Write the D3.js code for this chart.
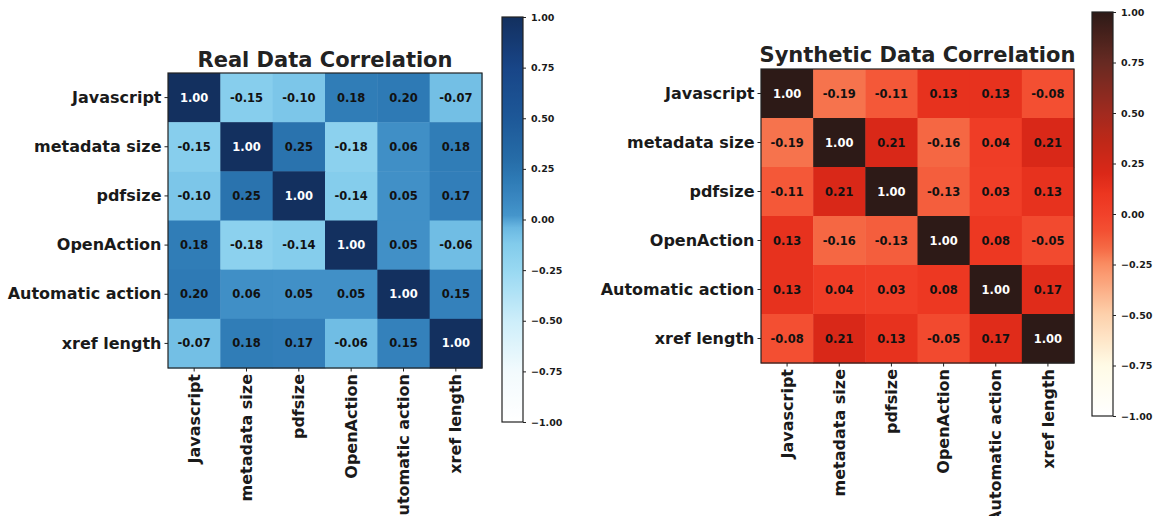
<!DOCTYPE html>
<html><head><meta charset="utf-8">
<script src="https://cdn.jsdelivr.net/npm/d3@7"></script>
<style>
html,body{margin:0;padding:0;background:#fff;}
svg{display:block;font-family:"DejaVu Sans",sans-serif;}
</style></head>
<body>
<svg id="c" width="1161" height="516"></svg>
<script>
const features = ["Javascript","metadata size","pdfsize","OpenAction","Automatic action","xref length"];
const realCorr = [
  [1.00,-0.15,-0.10,0.18,0.20,-0.07],
  [-0.15,1.00,0.25,-0.18,0.06,0.18],
  [-0.10,0.25,1.00,-0.14,0.05,0.17],
  [0.18,-0.18,-0.14,1.00,0.05,-0.06],
  [0.20,0.06,0.05,0.05,1.00,0.15],
  [-0.07,0.18,0.17,-0.06,0.15,1.00]
];
const synthCorr = [
  [1.00,-0.19,-0.11,0.13,0.13,-0.08],
  [-0.19,1.00,0.21,-0.16,0.04,0.21],
  [-0.11,0.21,1.00,-0.13,0.03,0.13],
  [0.13,-0.16,-0.13,1.00,0.08,-0.05],
  [0.13,0.04,0.03,0.08,1.00,0.17],
  [-0.08,0.21,0.13,-0.05,0.17,1.00]
];
const titles = ["Real Data Correlation","Synthetic Data Correlation"];
const colorbarTicks = [-1.00,-0.75,-0.50,-0.25,0.00,0.25,0.50,0.75,1.00];

// colour maps (style)
const blueStops = [-1,-0.75,-0.5,-0.25,-0.12,-0.04,0.02,0.1,0.2,0.3,0.5,0.75,1];
const blueCols  = ["#ffffff","#f2fafd","#cdeefa","#98d8f2","#82cbeb","#6ab8e2","#4595cb","#3a88c1","#2e7ab5","#266ca7","#1d5898","#184587","#13305f"];
const redStops = [-1,-0.75,-0.5,-0.25,-0.17,-0.08,0,0.1,0.2,0.35,0.5,0.75,1];
const redCols  = ["#ffffff","#fffbe6","#fdd1ac","#fa8d63","#f56a45","#f34f32","#f1412a","#ec3620","#db2818","#c02818","#a12a1f","#672a22","#2d1a17"];

const svg = d3.select("#c");

function panel(cfg){
  const {data,title,grid,cb,stops,cols,titleY} = cfg;
  const color = d3.scaleLinear().domain(stops).range(cols).interpolate(d3.interpolateRgb).clamp(true);
  const x = d3.scaleBand().domain(features).range([grid.x0,grid.x1]);
  const y = d3.scaleBand().domain(features).range([grid.y0,grid.y1]);
  const g = svg.append("g");
  const cells = [];
  data.forEach((row,i)=>row.forEach((v,j)=>cells.push({r:features[i],c:features[j],v,diag:i===j})));
  g.selectAll("rect.cell").data(cells).join("rect").attr("class","cell")
    .attr("x",d=>x(d.c)).attr("y",d=>y(d.r))
    .attr("width",x.bandwidth()+0.5).attr("height",y.bandwidth()+0.5)
    .attr("fill",d=>color(d.v));
  g.selectAll("text.val").data(cells).join("text").attr("class","val")
    .attr("x",d=>x(d.c)+x.bandwidth()/2).attr("y",d=>y(d.r)+y.bandwidth()/2)
    .attr("text-anchor","middle").attr("dominant-baseline","central")
    .attr("font-size","11.5px").attr("font-weight","bold")
    .attr("fill",d=>d.diag?"#ffffff":"#111111")
    .text(d=>d3.format(".2f")(d.v).replace("−","-"));
  g.append("rect").attr("x",grid.x0).attr("y",grid.y0)
    .attr("width",grid.x1-grid.x0).attr("height",grid.y1-grid.y0)
    .attr("fill","none").attr("stroke","#222").attr("stroke-width",1.2);
  // axes
  const ya = g.append("g").attr("transform",`translate(${grid.x0},0)`)
    .call(d3.axisLeft(y).tickSize(3.5).tickPadding(3));
  ya.select(".domain").remove();
  ya.selectAll("text").attr("font-size","16px").attr("font-weight","bold").attr("fill","#1a1a1a")
    .attr("font-family","DejaVu Sans");
  ya.selectAll("line").attr("stroke","#222");
  const xa = g.append("g").attr("transform",`translate(0,${grid.y1})`)
    .call(d3.axisBottom(x).tickSize(3.5).tickPadding(3));
  xa.select(".domain").remove();
  xa.selectAll("line").attr("stroke","#222");
  xa.selectAll("text").attr("font-size","16px").attr("font-weight","bold").attr("fill","#1a1a1a")
    .attr("font-family","DejaVu Sans")
    .attr("transform","rotate(-90)").attr("text-anchor","end")
    .attr("x",-6).attr("y",0).attr("dy","0.35em");
  // title
  g.append("text").attr("x",(grid.x0+grid.x1)/2).attr("y",titleY)
    .attr("text-anchor","middle").attr("font-size","21px").attr("font-weight","bold")
    .attr("fill","#222").text(title);
  // colorbar
  const gid = "grad"+cfg.id;
  const grad = svg.append("defs").append("linearGradient").attr("id",gid)
    .attr("x1",0).attr("y1",1).attr("x2",0).attr("y2",0);
  grad.selectAll("stop").data(d3.range(0,101)).join("stop")
    .attr("offset",d=>d+"%").attr("stop-color",d=>color(-1+2*d/100));
  const cs = d3.scaleLinear().domain([-1,1]).range([cb.y1,cb.y0]);
  g.append("rect").attr("x",cb.x0).attr("y",cb.y0).attr("width",cb.x1-cb.x0).attr("height",cb.y1-cb.y0)
    .attr("fill",`url(#${gid})`).attr("stroke","#222").attr("stroke-width",1.2);
  const ca = g.append("g").attr("transform",`translate(${cb.x1},0)`)
    .call(d3.axisRight(cs).tickValues(colorbarTicks).tickSize(3).tickPadding(5)
      .tickFormat(d=>d3.format(".2f")(d).replace("−","−")));
  ca.select(".domain").remove();
  ca.selectAll("line").attr("stroke","#222");
  ca.selectAll("text").attr("font-size","9.5px").attr("font-weight","bold").attr("fill","#1a1a1a")
    .attr("font-family","DejaVu Sans");
}

panel({id:"a",data:realCorr,title:titles[0],
  grid:{x0:168,x1:482,y0:73,y1:368},cb:{x0:502,x1:523,y0:17,y1:422},
  stops:blueStops,cols:blueCols,titleY:67});
panel({id:"b",data:synthCorr,title:titles[1],
  grid:{x0:761,x1:1074,y0:69,y1:363},cb:{x0:1092,x1:1113,y0:12,y1:416},
  stops:redStops,cols:redCols,titleY:62});
</script>
</body></html>
